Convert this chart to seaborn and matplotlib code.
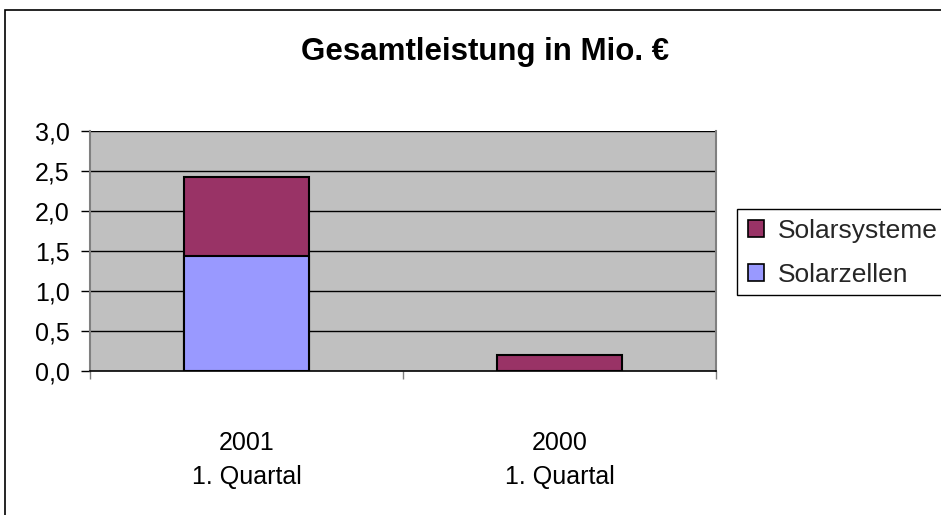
import matplotlib
matplotlib.use("Agg")
import matplotlib.pyplot as plt
import matplotlib.patches as mpatches
import seaborn as sns
import pandas as pd

# Data
categories = ["2001\n1. Quartal", "2000\n1. Quartal"]
solarzellen = [1.44, 0.0]
solarsysteme = [0.98, 0.20]
series_names = ["Solarsysteme", "Solarzellen"]
y_ticks = [0.0, 0.5, 1.0, 1.5, 2.0, 2.5, 3.0]

col_sys = "#993366"
col_zel = "#9999FF"

sns.set_theme(style="white")
plt.rcParams["font.family"] = ["Liberation Sans", "DejaVu Sans"]

fig = plt.figure(figsize=(9.41, 5.15), dpi=100)
fig.patch.set_facecolor("white")
ax = fig.add_axes([90 / 941, (515 - 371) / 515, 626 / 941, 240 / 515])
ax.set_facecolor("#C0C0C0")

totals = [a + b for a, b in zip(solarzellen, solarsysteme)]
df_tot = pd.DataFrame({"cat": categories, "val": totals})
df_zel = pd.DataFrame({"cat": categories, "val": solarzellen})

ax.set_axisbelow(True)
for y in y_ticks[1:]:
    ax.axhline(y, color="black", lw=1.0, zorder=0.5)

sns.barplot(data=df_tot, x="cat", y="val", color=col_sys, width=0.4,
            edgecolor="black", linewidth=1.5, saturation=1, ax=ax, zorder=2)
sns.barplot(data=df_zel[df_zel["val"] > 0], x="cat", y="val", color=col_zel,
            width=0.4, edgecolor="black", linewidth=1.5, saturation=1,
            ax=ax, zorder=3, order=categories)

ax.set_xlim(-0.5, 1.5)
ax.set_ylim(0, 3.0)
ax.set_yticks(y_ticks)
ax.set_yticklabels([f"{v:.1f}".replace(".", ",") for v in y_ticks])
ax.set_xlabel("")
ax.set_ylabel("")

ax.set_xticks([0, 1])
ax.set_xticklabels(categories, linespacing=1.55)
ax.set_xticks([-0.5, 0.5, 1.5], minor=True)
ax.tick_params(axis="x", which="major", length=0, pad=43, labelsize=18, colors="black")
ax.tick_params(axis="x", which="minor", length=6, width=1, color="#808080", bottom=True)
ax.tick_params(axis="y", which="major", length=6.5, width=1, color="black",
               pad=8, labelsize=18, left=True, labelcolor="black")

for s in ["left", "right", "top"]:
    ax.spines[s].set_color("#808080")
    ax.spines[s].set_linewidth(1.5)
ax.spines["top"].set_visible(False)
ax.spines["bottom"].set_color("black")
ax.spines["bottom"].set_linewidth(1.2)

fig.text(485 / 941, 1 - 60 / 515, "Gesamtleistung in Mio. €", ha="center", va="baseline",
         fontsize=22.5, fontweight="bold", color="black")

# legend frame (extends past right edge like the reference)
frame = mpatches.Rectangle((737 / 941, 1 - 295 / 515), 0.3, 86 / 515,
                           transform=fig.transFigure, facecolor="white",
                           edgecolor="black", lw=1.0, clip_on=False)
fig.patches.append(frame)

handles = [mpatches.Patch(facecolor=col_sys, edgecolor="black", lw=1.2),
           mpatches.Patch(facecolor=col_zel, edgecolor="black", lw=1.2)]
leg = fig.legend(handles, series_names, loc="upper left",
                 bbox_to_anchor=(740 / 941, 1 - 211 / 515), bbox_transform=fig.transFigure,
                 fontsize=19, frameon=False,
                 borderpad=0.3, labelspacing=0.75,
                 handlelength=0.6, handleheight=0.6, handletextpad=0.55,
                 borderaxespad=0)

border = mpatches.Rectangle((5 / 941, -0.1), 1.2, 1.1 - 10 / 515, transform=fig.transFigure,
                            fill=False, edgecolor="black", lw=1.2, clip_on=False)
fig.patches.append(border)

fig.savefig("out.png", dpi=100, facecolor="white")
